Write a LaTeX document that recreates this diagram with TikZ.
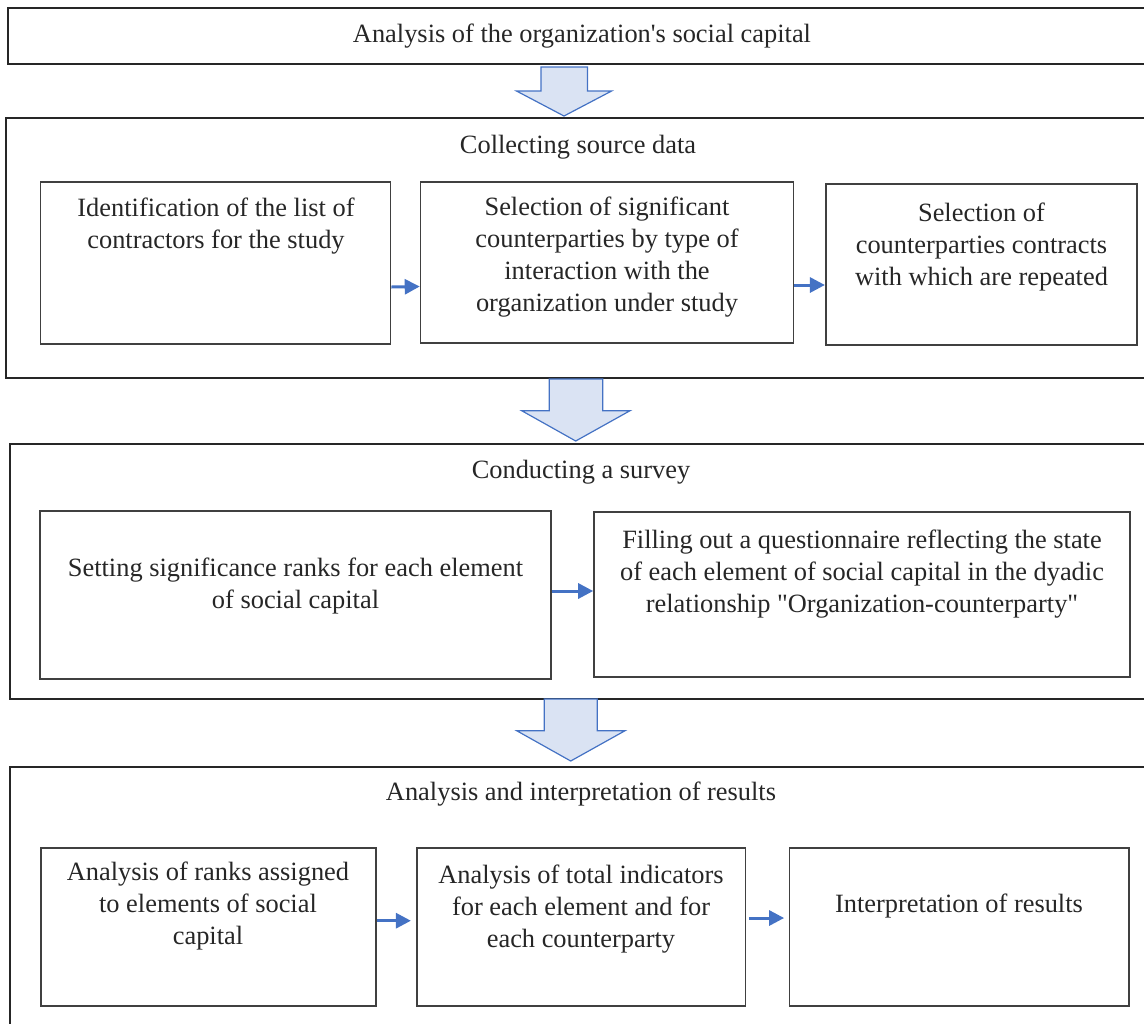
\documentclass[tikz,border=0pt]{standalone}
\usepackage{fontspec}
\setmainfont{Liberation Serif}
\usetikzlibrary{arrows.meta}
\definecolor{wordblue}{HTML}{4472C4}
\definecolor{paleblue}{HTML}{DAE3F3}
\begin{document}
\begin{tikzpicture}[x=0.5pt,y=-0.5pt,
  stagebox/.style={draw=black!85,line width=1pt,inner sep=0pt},
  inbox/.style={draw=black!75,line width=0.8pt,inner sep=0pt},
  txt/.style={align=center,text=black!85,font=\fontsize{13.2pt}{16pt}\selectfont,inner sep=0pt},
  flow/.style={draw=wordblue,line width=1.5pt,-{Triangle[length=7.5pt,width=7.5pt]}},
  bigarrow/.style={draw=wordblue,fill=paleblue,line width=0.6pt,line join=miter}]
\useasboundingbox (0,0) rectangle (1144,1023);
\clip (0,0) rectangle (1144,1023);

% stages
\node[stagebox,txt,minimum width=574pt,minimum height=28pt] (top) at (582,36) {Analysis of the organization\textquotesingle s social capital};
\node[stagebox,minimum width=572pt,minimum height=130pt] (collect) at (578,248) {};
\node[stagebox,minimum width=571pt,minimum height=127.3pt] (survey) at (581,571.3) {};
\node[stagebox,minimum width=571pt,minimum height=140pt] (result) at (581,907) {};

\node[txt] (collectT) at (578,147.5) {Collecting source data};
\node[txt] (surveyT) at (581,472) {Conducting a survey};
\node[txt] (resultT) at (581,794) {Analysis and interpretation of results};

% big arrows between stages
\draw[bigarrow] (541,67) -- (587.5,67) -- (587.5,91) -- (611.6,91) -- (564,116) -- (516.5,91) -- (541,91) -- cycle;
\draw[bigarrow] (549.3,379) -- (602.7,379) -- (602.7,410.7) -- (630,410.7) -- (575.7,441) -- (521.7,410.7) -- (549.3,410.7) -- cycle;
\draw[bigarrow] (544.3,699) -- (597.3,699) -- (597.3,730.7) -- (625,730.7) -- (570.7,761) -- (516.7,730.7) -- (544.3,730.7) -- cycle;

% collecting source data
\node[inbox,minimum width=175pt,minimum height=81pt] (src1) at (215.6,263) {};
\node[inbox,minimum width=186.4pt,minimum height=80.5pt] (src2) at (606.9,262.5) {};
\node[inbox,minimum width=155.5pt,minimum height=80.5pt] (src3) at (981.2,264.5) {};
\node[txt] (src1t) at (216,226.5) {Identification of the list of\\contractors for the study};
\node[txt] (src2t) at (607,256.7) {Selection of significant\\counterparties by type of\\interaction with the\\organization under study};
\node[txt] (src3t) at (981.5,247) {Selection of\\counterparties contracts\\with which are repeated};

% conducting a survey
\node[inbox,minimum width=255.5pt,minimum height=84pt] (srv1) at (295.5,595) {};
\node[inbox,minimum width=268pt,minimum height=82.5pt] (srv2) at (862,594.5) {};
\node[txt] (srv1t) at (295.5,586.5) {Setting significance ranks for each element\\of social capital};
\node[txt] (srv2t) at (862,574) {Filling out a questionnaire reflecting the state\\of each element of social capital in the dyadic\\relationship \textquotedbl Organization-counterparty\textquotedbl};

% analysis of results
\node[inbox,minimum width=167.5pt,minimum height=79pt] (res1) at (208.2,927) {};
\node[inbox,minimum width=164.3pt,minimum height=79pt] (res2) at (581,927) {};
\node[inbox,minimum width=169.7pt,minimum height=79pt] (res3) at (959.3,927) {};
\node[txt] (res1t) at (208,906) {Analysis of ranks assigned\\to elements of social\\capital};
\node[txt] (res2t) at (581,909) {Analysis of total indicators\\for each element and for\\each counterparty};
\node[txt] (res3t) at (959,906) {Interpretation of results};

% small arrows
\draw[flow] ([yshift=-12pt]src1.east) -- ([yshift=-12pt]src2.west);
\draw[flow] ([yshift=-11.25pt]src2.east) -- ([yshift=-10.25pt]src3.west);
\draw[flow] ([yshift=2pt]srv1.east) -- ([yshift=1.75pt]srv2.west);
\draw[flow,shorten >=2.5pt] ([yshift=3.15pt]res1.east) -- ([yshift=3.15pt]res2.west);
\draw[flow,shorten <=1.35pt,shorten >=2.35pt] ([yshift=4.5pt]res2.east) -- ([yshift=4.5pt]res3.west);

\end{tikzpicture}
\end{document}
